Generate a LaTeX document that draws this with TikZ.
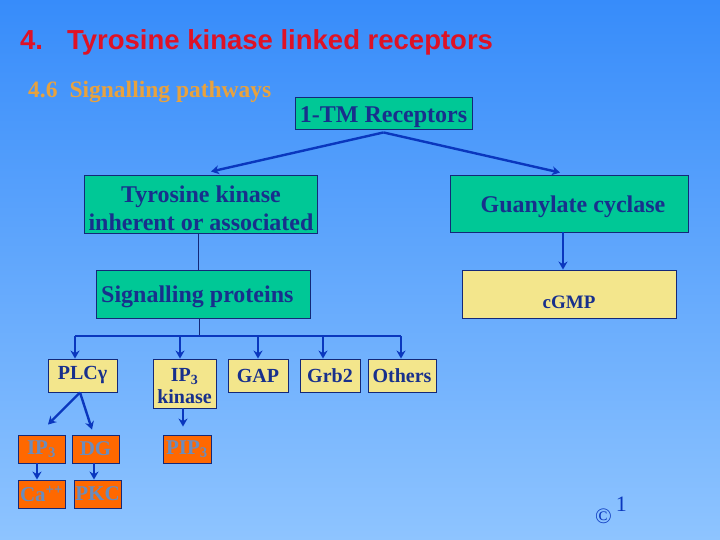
\documentclass[tikz,border=0pt]{standalone}
\usepackage{fontspec}
\setmainfont{Liberation Serif}
\newfontfamily\arialf{Liberation Sans}
\usetikzlibrary{arrows.meta,calc}
\definecolor{bgtop}{RGB}{55,140,250}
\definecolor{bgbot}{RGB}{142,196,255}
\definecolor{titlered}{RGB}{222,18,38}
\definecolor{subgold}{RGB}{232,162,62}
\definecolor{teal}{RGB}{0,200,150}
\definecolor{paleyel}{RGB}{243,230,140}
\definecolor{orangebx}{RGB}{255,104,0}
\definecolor{navy}{RGB}{20,40,120}
\definecolor{txtblue}{RGB}{24,48,140}
\definecolor{arrblue}{RGB}{10,55,190}
\definecolor{greyblue}{RGB}{105,140,190}
\tikzset{
  boxbase/.style={draw=navy, line width=0.9pt, inner sep=0pt, text=txtblue},
  tealbox/.style={boxbase, fill=teal, font=\bfseries\fontsize{24}{28}\selectfont},
  tealtext/.style={inner sep=0pt, text=txtblue, font=\bfseries\fontsize{24}{28}\selectfont},
  yelbox/.style={boxbase, fill=paleyel, font=\bfseries\fontsize{20}{22}\selectfont},
  yeltext/.style={inner sep=0pt, text=txtblue, font=\bfseries\fontsize{20}{22}\selectfont},
  orbox/.style={boxbase, fill=orangebx, text=greyblue, font=\bfseries\fontsize{21}{23}\selectfont, minimum height=28pt},
  arr/.style={draw=arrblue, line width=2.4pt, -{Stealth[length=8pt,width=9pt]}},
  thinline/.style={draw=navy, line width=0.9pt},
  busline/.style={draw=arrblue, line width=2.4pt}
}
\begin{document}
\begin{tikzpicture}[x=1pt,y=-1pt]
\shade[top color=bgtop, bottom color=bgbot] (0,0) rectangle (720,540);
\useasboundingbox (0,0) rectangle (720,540);

% titles
\node[anchor=base west, inner sep=0pt, text=titlered, font=\arialf\bfseries\fontsize{27.5}{30}\selectfont] (title) at (20,50) {4.\hskip 24pt Tyrosine kinase linked receptors};
\node[anchor=base west, inner sep=0pt, text=subgold, font=\bfseries\fontsize{23.5}{26}\selectfont] (sub) at (28,98) {4.6\hskip 12pt Signalling pathways};

% main boxes
\node[tealbox, minimum width=177pt, minimum height=32pt] (tm) at (383.5,113) {};
\node[tealtext, anchor=base] (tmt) at (383.5,123) {1-TM Receptors};
\node[tealbox, minimum width=233pt, minimum height=58pt] (tyro) at (200.5,204) {};
\node[tealtext, anchor=base, align=center] (tyrot) at (201,230) {Tyrosine kinase\\inherent or associated};
\node[tealbox, minimum width=238pt, minimum height=57pt] (guan) at (569,203.5) {};
\node[tealtext, anchor=base] (guant) at (573,213) {Guanylate cyclase};
\node[tealbox, minimum width=214pt, minimum height=48pt] (sig) at (203,294) {};
\node[tealtext, anchor=base west] (sigt) at (101,302) {Signalling proteins};
\node[boxbase, fill=paleyel, minimum width=214pt, minimum height=48pt] (cgmp) at (569,294) {};
\node[anchor=base, inner sep=0pt, text=txtblue, font=\bfseries\fontsize{19}{21}\selectfont] (cgmpt) at ([yshift=-14pt]cgmp.center) {cGMP};

% second row
\node[yelbox, minimum width=69pt, minimum height=33pt] (plc) at (82.5,375.5) {PLCγ};
\node[yelbox, minimum width=63pt, minimum height=49pt] (ipk) at (184.5,383.5) {};
\node[yeltext, anchor=base, align=center] (ipkt) at (184.5,403) {IP\textsubscript{3}\\[0pt]kinase};
\node[yelbox, minimum width=60pt, minimum height=33pt] (gap) at (258,375.5) {GAP};
\node[yelbox, minimum width=60pt, minimum height=33pt] (grb) at (330,375.5) {Grb2};
\node[yelbox, minimum width=68pt, minimum height=33pt] (oth) at (402,375.5) {Others};

% orange boxes
\node[orbox, minimum width=47pt] (ipt) at (41.5,449) {IP\textsubscript{3}};
\node[orbox, minimum width=47pt] (dg) at (95.5,449) {DG};
\node[orbox, minimum width=48pt] (pip) at (187,449) {PIP\textsubscript{3}};
\node[orbox, minimum width=47pt] (ca) at (41.5,494) {Ca\textsuperscript{++}};
\node[orbox, minimum width=47pt] (pkc) at (97.5,494) {PKC};

% copyright
\node[anchor=base west, inner sep=0pt, text=arrblue, font=\fontsize{22}{24}\selectfont] (copy) at (595,523) {©\hskip 4pt\raisebox{12pt}{1}};

% connectors from 1-TM
\coordinate (apex) at ([yshift=-3pt]tm.south);
\draw[arr] (apex) -- ([xshift=10.5pt,yshift=3pt]tyro.north);
\draw[arr] (apex) -- ([xshift=-9pt,yshift=2pt]guan.north);

% tyro -> sig, guan -> cgmp
\draw[thinline] ([xshift=-2.5pt]tyro.south) -- ([xshift=-2.5pt]tyro.south |- sig.north);
\draw[arr] ([xshift=-6pt]guan.south) -- ([xshift=-6pt]guan.south |- cgmp.north);

% bus
\coordinate (b1) at (75,336);
\coordinate (b2) at (180,336);
\coordinate (b3) at (258,336);
\coordinate (b4) at (323,336);
\coordinate (b5) at (401,336);
\draw[thinline] ([xshift=-4pt]sig.south) -- ([xshift=-4pt]sig.south |- b1);
\draw[busline] (b1) -- (b5);
\draw[arr] (b1) -- (b1 |- plc.north);
\draw[arr] (b2) -- (b2 |- ipk.north);
\draw[arr] (b3) -- (b3 |- gap.north);
\draw[arr] (b4) -- (b4 |- grb.north);
\draw[arr] (b5) -- (b5 |- oth.north);

% lower connectors
\coordinate (plcb) at ([xshift=-2.5pt]plc.south);
\draw[arr] (plcb) -- ([xshift=6.5pt,yshift=10pt]ipt.north);
\draw[arr] (plcb) -- ([xshift=-3.5pt,yshift=5pt]dg.north);
\draw[arr] ([xshift=-4.5pt]ipt.south) -- ([xshift=-4.5pt]ipt.south |- ca.north);
\draw[arr] ([xshift=-1.5pt]dg.south) -- ([xshift=-1.5pt]dg.south |- pkc.north);
\draw[arr] ([xshift=-1.5pt]ipk.south) -- ([xshift=-1.5pt,yshift=8pt]ipk.south |- pip.north);
\end{tikzpicture}
\end{document}
